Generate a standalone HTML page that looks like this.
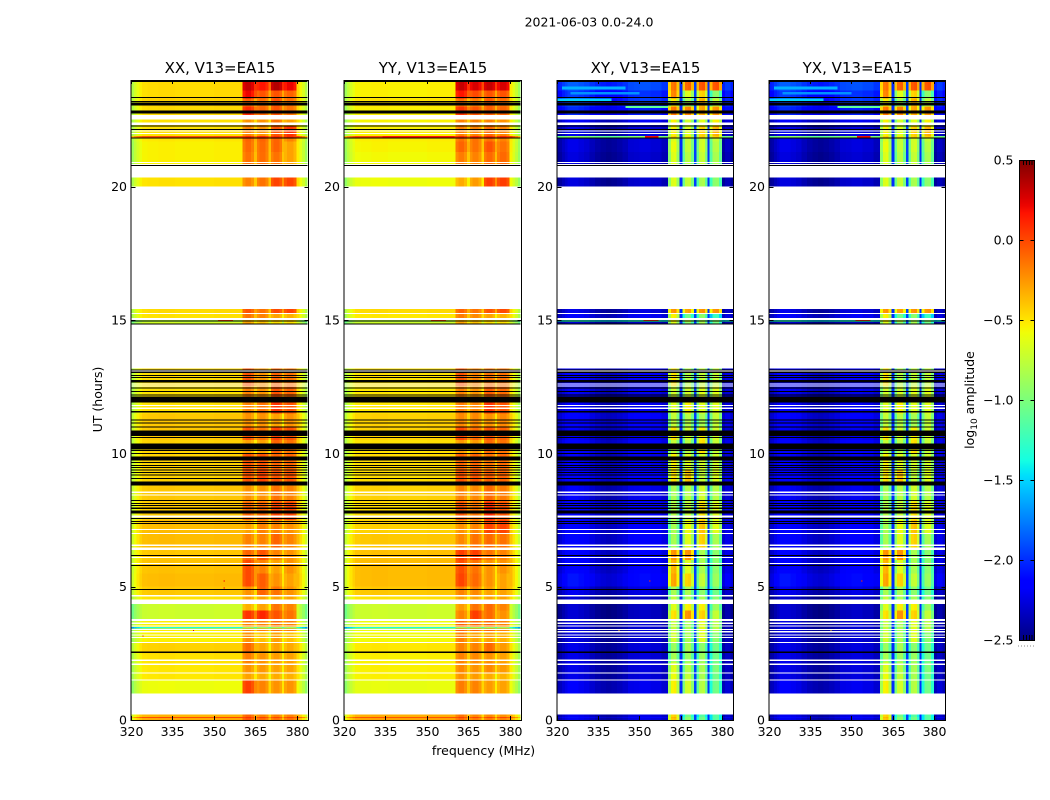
<!DOCTYPE html>
<html>
<head>
<meta charset="utf-8">
<title>2021-06-03 0.0-24.0</title>
<style>
html,body{margin:0;padding:0;background:#fff;width:1050px;height:800px;overflow:hidden}
svg{display:block}
text{font-family:"DejaVu Sans","Liberation Sans",sans-serif;fill:#000}
</style>
</head>
<body>
<svg id="fig" xmlns="http://www.w3.org/2000/svg" width="1050" height="800" viewBox="0 0 1050 800">
  <rect x="0" y="0" width="1050" height="800" fill="#fff"/>
  <text x="589" y="26.5" font-size="12.5" text-anchor="middle">2021-06-03 0.0-24.0</text>
  <text x="483.5" y="755" font-size="12.5" text-anchor="middle">frequency (MHz)</text>
  <text transform="translate(102,399.5) rotate(-90)" font-size="12.5" text-anchor="middle">UT (hours)</text>
  <text transform="translate(974,400) rotate(-90)" font-size="12.5" text-anchor="middle">log<tspan font-size="9" dy="3">10</tspan><tspan dy="-3"> amplitude</tspan></text>
  <defs>
    <linearGradient id="jet-gradient" x1="0" y1="1" x2="0" y2="0"></linearGradient>
  </defs>
</svg>
<script>
// ---- chart data ----
const panelTitles = ['XX, V13=EA15', 'YY, V13=EA15', 'XY, V13=EA15', 'YX, V13=EA15'];
const freqTicks = [320, 335, 350, 365, 380];
const hourTicks = [0, 5, 10, 15, 20];
const colorTicks = [-2.5, -2.0, -1.5, -1.0, -0.5, 0.0, 0.5];
const colorTickLabels = ['\u22122.5', '\u22122.0', '\u22121.5', '\u22121.0', '\u22120.5', '0.0', '0.5'];

// Start hour of each time band (last entry closes the final band)
const bandStart = [0, 0.07, 0.11, 0.20, 1.00, 1.50, 1.75, 2.15, 2.50, 2.90, 3.30, 3.44, 3.48, 3.75, 4.10, 4.35, 4.525, 4.65,
  5.00, 5.50, 6.00, 6.45, 7.00, 7.50, 8.20, 8.80, 9.40, 10.00, 10.50, 11.00, 11.50, 12.00, 12.50, 13.19, 14.85, 14.93,
  15.00, 15.07, 15.23, 15.27, 15.42, 20.00, 20.35, 20.85, 21.30, 21.70, 21.84, 21.90, 22.30, 22.65, 23.00, 23.30, 23.60, 24.00];

// log10 amplitude per band: [background, block 1, block 2, block 3, block 4]; null = no data
const xxRows = [
  [-.32,-.05,-.12,-.15,-.15],[-.02,.05,.02,0,0],[-.36,-.1,-.2,-.2,-.2],null,
  [-.6,.02,-.2,-.25,-.25],[-.52,-.3,-.33,-.33,-.35],[-.52,-.25,-.27,-.3,-.3],[-.5,-.18,-.25,-.28,-.3],
  [-.45,-.12,-.3,-.3,-.33],[-.55,-.25,-.4,-.3,-.4],[-.55,-.2,-.2,-.15,-.2],[-1.35,-.9,-.9,-.9,-.9],
  [-.55,-.2,-.2,-.15,-.2],[-.72,.05,.1,-.05,-.15],[-.72,-.35,-.3,-.15,-.2],null,
  [-.5,-.3,-.3,-.3,-.3],[-.42,-.25,-.1,-.15,-.25],[-.38,-.02,-.08,-.25,-.3],[-.4,-.02,-.2,-.3,-.25],
  [-.42,-.1,-.05,-.2,-.25],[-.38,-.2,-.2,-.1,-.2],[-.38,-.3,-.2,-.2,-.25],[-.42,-.1,-.1,0,0],
  [-.42,-.25,-.25,-.15,-.2],[-.45,-.05,0,-.05,-.05],[-.45,-.05,-.05,-.1,-.1],[-.45,-.3,-.3,-.1,-.15],
  [-.42,-.05,-.15,0,-.05],[-.42,-.25,-.25,-.3,-.25],[-.5,-.2,-.15,.05,-.05],[-.5,-.2,-.25,-.05,-.1],
  [-.48,-.05,-.25,-.1,-.15],null,[-.7,-.3,-.4,-.5,-.5],[-.8,-.35,-.4,-.45,-.45],null,
  [-.5,-.15,-.2,-.3,-.35],null,[-.48,-.05,-.15,-.02,0],null,[-.5,-.2,-.15,0,0],null,
  [-.55,-.15,-.13,-.15,-.3],[-.55,-.12,-.12,-.1,-.3],[-.52,-.1,-.1,-.1,-.2],[-.05,.08,.08,.08,.08],
  [-.5,-.2,-.25,-.05,.05],[-.5,-.25,-.25,-.15,-.3],[-.48,.08,-.1,-.05,-.15],[-.45,-.1,-.15,-.05,-.15],
  [-.48,.2,-.05,-.05,-.1],[-.48,.3,.15,.35,.2]
];
const yyRows = [
  [-.3,-.12,-.18,-.18,-.2],[-.05,.02,0,0,0],[-.34,-.15,-.22,-.22,-.25],null,
  [-.62,-.18,-.2,-.28,-.3],[-.55,-.25,-.28,-.33,-.36],[-.55,-.22,-.25,-.22,-.28],[-.55,-.2,-.22,-.25,-.3],
  [-.52,-.2,-.2,-.12,-.28],[-.58,-.2,-.3,-.3,-.35],[-.6,-.1,-.12,-.12,-.2],[-1.35,-.9,-.9,-.9,-.9],
  [-.6,-.1,-.12,-.12,-.2],[-.72,-.2,.02,-.12,-.25],[-.72,-.28,-.15,-.12,-.2],null,
  [-.5,-.3,-.3,-.3,-.3],[-.42,-.2,-.22,-.3,-.3],[-.38,0,-.12,-.25,-.3],[-.38,-.03,-.15,-.25,-.25],
  [-.4,.02,.02,-.15,-.2],[-.42,-.22,-.15,-.12,-.15],[-.45,-.25,-.2,0,0],[-.48,-.05,-.15,.08,-.05],
  [-.45,-.2,-.22,-.12,-.18],[-.48,-.05,-.05,-.08,-.1],[-.48,-.1,-.1,-.15,-.12],[-.5,-.28,-.28,-.12,-.15],
  [-.45,-.02,-.12,-.05,-.1],[-.45,-.22,-.22,-.25,-.22],[-.52,-.18,-.2,.05,-.05],[-.52,-.2,-.25,-.08,-.12],
  [-.5,-.05,-.2,-.15,-.15],null,[-.72,-.3,-.4,-.5,-.5],[-.8,-.35,-.4,-.45,-.45],null,
  [-.52,-.18,-.22,-.3,-.35],null,[-.48,-.1,-.15,-.05,-.02],null,[-.6,-.33,-.28,.02,.02],null,
  [-.58,-.18,-.2,-.12,-.12],[-.56,-.1,-.15,-.05,-.15],[-.54,-.15,-.15,-.15,-.2],[-.02,.08,.08,.08,.08],
  [-.55,-.2,-.2,-.12,-.2],[-.56,-.2,-.2,-.2,-.25],[-.55,.05,-.05,-.08,-.1],[-.5,-.15,-.2,-.08,-.15],
  [-.55,.15,-.02,-.05,-.05],[-.55,.3,.25,.3,.25]
];
const crossRows = [
  [-2.4,-.45,-1,-1.1,-1.2],[-2.3,-.4,-1,-1.1,-1.2],[-2.4,-.5,-1.1,-1.2,-1.2],null,
  [-2.37,-.6,-.75,-.85,-1.1],[-2.42,-.65,-.8,-.9,-1.1],[-2.42,-.7,-.85,-.9,-1.05],[-2.42,-.9,-.95,-.95,-1.1],
  [-2.42,-.95,-.9,-1,-1.1],[-2.45,-.75,-.9,-.7,-1.0],[-2.45,-.8,-.9,-.7,-.85],[-2.45,-.8,-.9,-.7,-.85],
  [-2.45,-.8,-.9,-.7,-.85],[-2.48,-.55,-.3,-.5,-.8],[-2.48,-.7,-.6,-.6,-.95],null,
  [-2.48,-.8,-.9,-.9,-1],[-2.4,-.9,-.9,-1,-1.1],[-2.27,-.35,-.5,-.8,-.95],[-2.32,-.4,-.7,-.9,-1.0],
  [-2.32,-.3,-.3,-.9,-1.0],[-2.32,-.9,-.7,-.5,-.9],[-2.32,-.9,-.65,-.45,-.7],[-2.32,-.85,-.8,-.55,-.7],
  [-2.37,-.9,-.85,-.75,-.85],[-2.32,-.55,-.45,-.8,-.7],[-2.37,-.6,-.7,-.75,-.75],[-2.32,-.8,-.85,-.55,-.8],
  [-2.37,-.55,-.75,-.6,-.75],[-2.32,-.8,-.85,-.9,-.8],[-2.37,-.7,-.6,-.7,-.7],[-2.37,-.75,-.75,-.7,-.7],
  [-2.32,-.55,-.85,-.8,-.8],null,[-2.48,-.7,-1,-.9,-1.1],[-1.5,-.6,-.8,-.9,-1],null,
  [-2.35,-.6,-1.1,-1,-1.3],null,[-2.42,-.3,-.35,-.3,-.3],null,[-2.45,-.7,-.8,-.9,-1.0],null,
  [-2.45,-.7,-.85,-.8,-.9],[-2.42,-.65,-.8,-.75,-.85],[-2.42,-.7,-.8,-.75,-.8],[-1.1,-.5,-.6,-.5,-.5],
  [-2.42,-.6,-.7,-.5,-.4],[-2.35,-.6,-.75,-.7,-.6],[-2.2,-.2,-.25,-.35,-.3],[-2.1,-.6,-.9,-.4,-.8],
  [-2.15,-.25,-.7,-.5,-1.0],[-2.05,-.2,-.15,-.1,-.1]
];

// Channel layout in MHz
const wingEdges = [320,321,322,323,324,326,328,330,332,334,336,338,340,342,344,346,348,350,352,354,356,358,360.4];
const blockEdges = [[360.4,364.6],[365.6,369.8],[370.7,374.8],[375.5,379.9]];
const rightEdges = [379.9,381,382,383,384];

// Per-channel offsets added to the band background
const coWing = [-.32,-.2,-.12,-.05,0,.01,.01,.02,.02,.02,.01,.01,.01,.01,.01,.01,.01,.02,.02,.02,.02,.02];
const crossWing = [0,.03,.1,.15,.2,.2,.17,.14,.08,.03,0,-.02,0,.03,.07,.14,.15,.17,.17,.14,.14,.08];
const coRight = [.03,-.08,-.18,-.32];
const crossRight = [.02,.1,.1,.02];
const coBlockShape = [-.04,.02,.02,-.05];
const crossBlockShape = [-.25,.05,.08,-.2];
const coGapDrop = [.22,.25,.25];
const crossGap = [-2.0,-1.95,-2.0];

// Flagged rows, in UT hours [start, end]
const whiteRows = [[13.07,13.11],[12.58,12.62],[12.51,12.55],[11.78,11.82],[11.67,11.71],[9.64,9.68],[8.52,8.56],[8.41,8.45],
  [8.105,8.145],[7.585,7.675],[7.13,7.17],[6.98,7.02],[6.52,6.59],[6.37,6.47],[6.08,6.12],[5.855,5.895],[4.64,4.69],
  [3.71,3.78],[3.6,3.65],[3.505,3.545],[3.38,3.42],[3.29,3.33],[3.17,3.21],[3.08,3.12],[2.89,2.93],[2.22,2.26],[2.07,2.11],
  [1.74,1.78],[1.48,1.52],[20.89,20.93],[22.07,22.11],[21.98,22.02],[22.31,22.4],[22.525,22.69]];
const blackRows = [[13.105,13.145],[13.02,13.06],[12.905,12.945],[12.83,12.87],[12.65,12.75],[12.43,12.47],
  [12.3,12.34],[12.17,12.21],[11.9,12.125],[11.54,11.58],[11.23,11.27],[11.11,11.15],
  [10.97,11.01],[10.65,10.85],[10.58,10.62],[10.15,10.375],[10.08,10.12],[9.98,10.02],[9.725,9.875],
  [9.63,9.67],[9.53,9.57],[9.455,9.495],[9.355,9.395],[9.255,9.295],[9.17,9.21],[9.04,9.08],[8.8,8.94],[8.205,8.245],
  [8.105,8.145],[8.03,8.07],[7.92,7.96],[7.75,7.85],[7.53,7.57],[7.43,7.47],[7.355,7.395],[6.155,6.195],[5.78,5.82],
  [4.88,4.92],[2.52,2.56],[23.92,24],[23.33,23.37],[23.18,23.22],[23.04,23.15],[22.74,22.85],[22.255,22.295],[22.13,22.17],
  [21.805,21.845],[20.78,20.82],[14.83,14.87],[14.94,14.98]];

// Bright runs and isolated samples: [panel, hour start, hour end, MHz start, MHz end, value]
const brightRuns = [
  [0,14.98,15.0,351.5,357,.05],[1,14.98,15.0,351.5,357,.05],[2,14.98,15.0,351.5,357,.05],[3,14.98,15.0,351.5,357,.05],
  [1,21.84,21.9,334,360,.15],[2,21.84,21.9,352,357,.2],[3,21.84,21.9,352,357,.2],
  [0,5.2,5.24,353.6,354,.2],[0,4.93,4.97,353.6,354,.2],[0,3.33,3.37,342.4,342.8,.3],[0,3.13,3.17,324.1,324.5,.3],
  [2,5.2,5.24,353.6,354,.1],[3,5.2,5.24,353.6,354,.1],[2,3.33,3.37,342.4,342.8,-.4],[3,3.33,3.37,342.4,342.8,-.4],
  [2,23.65,23.75,322,345,-1.6],[3,23.65,23.75,322,345,-1.6],[2,23.45,23.55,325,350,-1.7],[3,23.45,23.55,325,350,-1.7],
  [2,23.22,23.3,320,340,-1.5],[3,23.22,23.3,320,340,-1.5],[2,22.95,23.03,345,360.4,-1.1],[3,22.95,23.03,345,360.4,-1.1]
];

// Matplotlib jet anchors
const jetRed = [[0,0],[.35,0],[.66,1],[.89,1],[1,.5]];
const jetGreen = [[0,0],[.125,0],[.375,1],[.64,1],[.91,0],[1,0]];
const jetBlue = [[0,.5],[.11,1],[.34,1],[.65,0],[1,0]];
const colorMin = -2.5;
const colorMax = 0.5;

// ---- layout and scales ----
const svgNS = 'http://www.w3.org/2000/svg';
const fig = document.getElementById('fig');
const panelLeft = [131, 344, 556.5, 768.5];
const panelWidth = 176.6;
const plotTop = 80;
const plotBottom = 720;
const freqMin = 320;
const freqMax = 384;
const hourMax = 24;
const tickLen = 4;

function xScale(panel, mhz) { return panelLeft[panel] + (mhz - freqMin) / (freqMax - freqMin) * panelWidth; }
function yScale(hour) { return plotBottom - hour / hourMax * (plotBottom - plotTop); }
function anchorValue(anchors, t) {
  for (let i = 1; i < anchors.length; i++) {
    if (t <= anchors[i][0]) {
      const a = anchors[i - 1], b = anchors[i];
      return a[1] + (b[1] - a[1]) * (t - a[0]) / (b[0] - a[0]);
    }
  }
  return anchors[anchors.length - 1][1];
}
function jetColor(value) {
  const t = Math.min(1, Math.max(0, (value - colorMin) / (colorMax - colorMin)));
  const c = [jetRed, jetGreen, jetBlue].map(a => Math.round(anchorValue(a, t) * 255));
  return 'rgb(' + c.join(',') + ')';
}
function make(tag, attrs, parent) {
  const el = document.createElementNS(svgNS, tag);
  for (const k in attrs) el.setAttribute(k, attrs[k]);
  parent.appendChild(el);
  return el;
}
function drawCell(group, panel, f0, f1, h0, h1, value) {
  const x0 = xScale(panel, f0), x1 = xScale(panel, f1), yTop = yScale(h1), yBot = yScale(h0);
  const el = make('rect', { x: x0, y: yTop, width: x1 - x0, height: yBot - yTop, fill: jetColor(value), 'shape-rendering': 'crispEdges' }, group);
  
  
}
function drawFlag(group, panel, h0, h1, color) {
  const yTop = yScale(h1), yBot = yScale(h0);
  const el = make('rect', { x: xScale(panel, freqMin), y: yTop, width: panelWidth, height: Math.max(1, yBot - yTop), fill: color, 'shape-rendering': 'crispEdges' }, group);
  
  
}
function drawLine(parent, x1, y1, x2, y2, name) {
  const el = make('line', { x1: x1, y1: y1, x2: x2, y2: y2, stroke: '#000', 'stroke-width': 1, 'shape-rendering': 'crispEdges' }, parent);
  
  
}

// ---- panels ----
const panelRows = [xxRows, yyRows, crossRows, crossRows];
panelTitles.forEach(function (title, p) {
  const group = make('g', {}, fig);
  
  
  const cross = p >= 2;
  const rows = panelRows[p];
  const wing = cross ? crossWing : coWing;
  const right = cross ? crossRight : coRight;
  const shape = cross ? crossBlockShape : coBlockShape;

  rows.forEach(function (row, b) {
    if (!row) return;
    const h0 = bandStart[b], h1 = bandStart[b + 1];
    wing.forEach(function (off, c) {
      drawCell(group, p, wingEdges[c], wingEdges[c + 1], h0, h1, row[0] + off);
    });
    blockEdges.forEach(function (edge, k) {
      const step = (edge[1] - edge[0]) / shape.length;
      shape.forEach(function (off, s) {
        drawCell(group, p, edge[0] + s * step, edge[0] + (s + 1) * step, h0, h1, row[k + 1] + off);
      });
      if (k < blockEdges.length - 1) {
        const gapValue = cross ? crossGap[k] : row[k + 1] - coGapDrop[k];
        drawCell(group, p, edge[1], blockEdges[k + 1][0], h0, h1, gapValue);
      }
    });
    right.forEach(function (off, c) {
      drawCell(group, p, rightEdges[c], rightEdges[c + 1], h0, h1, row[0] + off);
    });
  });

  brightRuns.forEach(function (run) {
    if (run[0] === p) drawCell(group, p, run[3], run[4], run[1], run[2], run[5]);
  });
  whiteRows.forEach(function (r) { drawFlag(group, p, r[0], r[1], '#fff'); });
  blackRows.forEach(function (r) { drawFlag(group, p, r[0], r[1], '#000'); });

  // frame
  const frameLeft = Math.round(panelLeft[p]) + 0.5;
  const frameRight = Math.round(panelLeft[p] + panelWidth) + 0.5;
  const frame = make('rect', { x: frameLeft - 0.5, y: plotTop + 0.5, width: frameRight - frameLeft + 0.5, height: plotBottom - plotTop, fill: 'none', stroke: '#000', 'stroke-width': 1, 'shape-rendering': 'crispEdges' }, group);
  
  

  // x ticks
  freqTicks.forEach(function (f) {
    const x = Math.round(xScale(p, f)) + 0.5;
    drawLine(group, x, plotBottom, x, plotBottom - tickLen, 'x-tick');
    drawLine(group, x, plotTop, x, plotTop + tickLen, 'x-tick-top');
    const label = make('text', { x: x, y: 736, 'font-size': 12.5, 'text-anchor': 'middle' }, group);
    label.textContent = String(f);
    
    
  });
  // y ticks
  hourTicks.forEach(function (h) {
    const y = Math.round(yScale(h)) + 0.5;
    drawLine(group, frameLeft, y, frameLeft + tickLen, y, 'y-tick');
    drawLine(group, frameRight, y, frameRight - tickLen, y, 'y-tick-right');
    const label = make('text', { x: frameLeft - 4.5, y: yScale(h) + 4.5, 'font-size': 12.5, 'text-anchor': 'end' }, group);
    label.textContent = String(h);
    
    
  });
  // title
  const titleEl = make('text', { x: (frameLeft + frameRight) / 2, y: 73, 'font-size': 15, 'text-anchor': 'middle' }, group);
  titleEl.textContent = title;
  
  
});

// ---- colorbar ----
const barLeft = 1019.5, barRight = 1034.5, barTop = 160, barBottom = 640;
function colorY(v) { return barBottom - (v - colorMin) / (colorMax - colorMin) * (barBottom - barTop); }
const gradient = document.getElementById('jet-gradient');
for (let i = 0; i <= 64; i++) {
  const stop = make('stop', { offset: (i / 64 * 100) + '%', 'stop-color': jetColor(colorMin + i / 64 * (colorMax - colorMin)) }, gradient);
}
const barGroup = make('g', {}, fig);


const barRect = make('rect', { x: barLeft, y: barTop + 0.5, width: barRight - barLeft, height: barBottom - barTop, fill: 'url(#jet-gradient)', stroke: '#000', 'stroke-width': 1, 'shape-rendering': 'crispEdges' }, barGroup);


colorTicks.forEach(function (v, i) {
  const y = Math.round(colorY(v)) + 0.5;
  drawLine(barGroup, barLeft, y, barLeft + tickLen, y, 'colorbar-tick');
  drawLine(barGroup, barRight, y, barRight - tickLen, y, 'colorbar-tick-right');
  const label = make('text', { x: barLeft - 6, y: colorY(v) + 4.5, 'font-size': 12.5, 'text-anchor': 'end' }, barGroup);
  label.textContent = colorTickLabels[i];
  
  
});
[1023.5, 1026.5, 1029.5, 1032].forEach(function (x) {
  drawLine(barGroup, x, barTop, x, barTop + 5, 'colorbar-minor-tick');
  drawLine(barGroup, x, barBottom, x, barBottom - 5, 'colorbar-minor-tick');
});
[1018, 1021, 1024, 1027, 1030, 1033].forEach(function (x) {
  const dot = make('rect', { x: x, y: 645.5, width: 1, height: 1, fill: '#888', 'shape-rendering': 'crispEdges' }, barGroup);
  
  
});
</script>
</body>
</html>
